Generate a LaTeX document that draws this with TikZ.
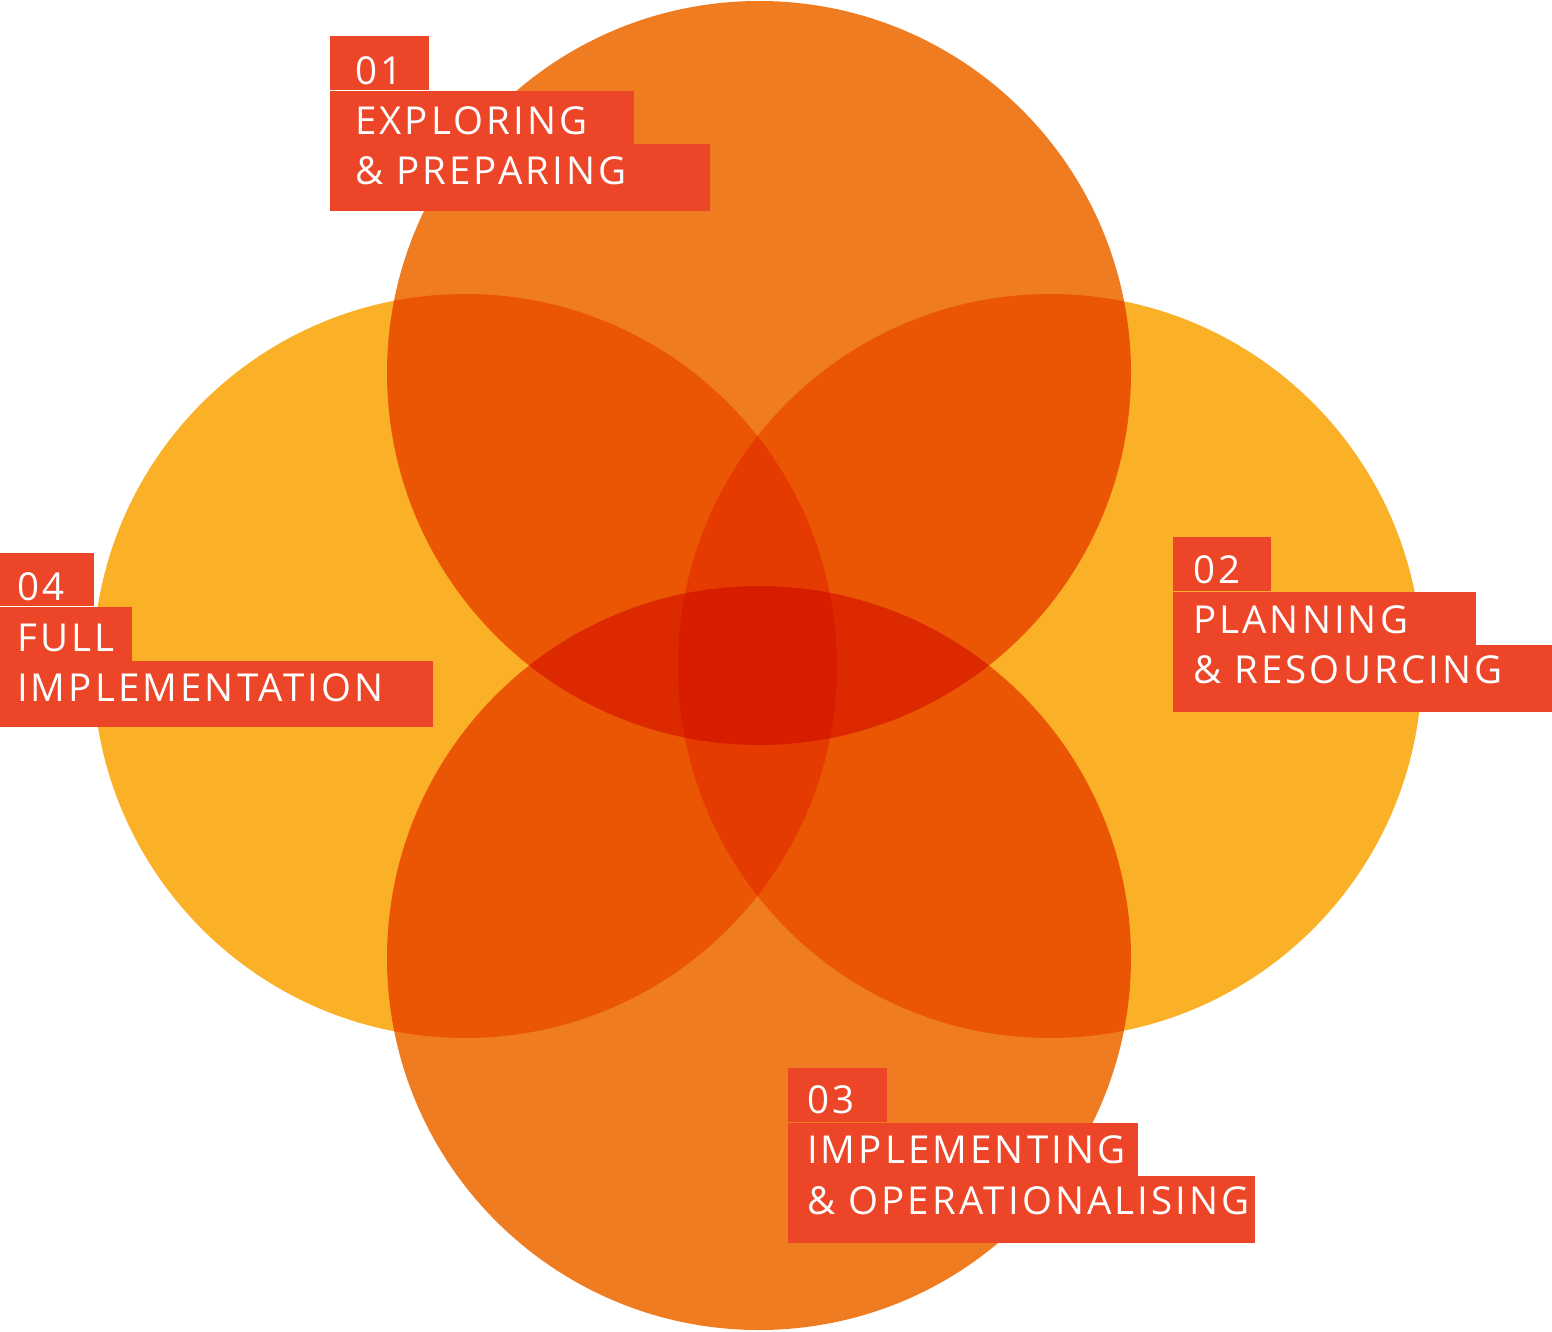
\documentclass[tikz,border=0pt]{standalone}
\usepackage{fontspec}
\setmainfont{Open Sans}[LetterSpace=8]
\usetikzlibrary{positioning}
\definecolor{stageorange}{HTML}{F07C22}
\definecolor{stageyellow}{HTML}{FAB128}
\definecolor{tagred}{HTML}{EC4527}

\begin{document}
\begin{tikzpicture}[x=1pt, y=-1pt]
        % Styles
        \tikzstyle{stage} = [circle, minimum size=744pt, inner sep=0pt]
        \tikzstyle{tag} = [fill=tagred, inner sep=0pt, anchor=north west]
        \tikzstyle{tagtext} = [text=white, inner sep=0pt, anchor=base west,
                               font=\fontsize{38.5}{44}\selectfont]

        \useasboundingbox (0,0) rectangle (1552,1332);

        % Stage circles - overlaps are multiplied
        \begin{scope}[blend mode=multiply]
            \node[stage, fill=stageorange] (exploring) at (759,373) {};
            \node[stage, fill=stageyellow] (planning) at (1050,666) {};
            \node[stage, fill=stageorange] (implementing) at (759,958) {};
            \node[stage, fill=stageyellow] (full) at (465,666) {};
        \end{scope}

        % 01 tag - stepped boxes, one per line
        \node[tag, minimum width=99pt, minimum height=54pt] (tag01a) at (330,36) {};
        \node[tag, minimum width=304pt, minimum height=53pt, below right=0pt and 0pt of tag01a.south west] (tag01b) {};
        \node[tag, minimum width=380pt, minimum height=67pt, below right=0pt and 0pt of tag01b.south west] (tag01c) {};
        \node[tagtext] (num01) at ([xshift=25pt, yshift=-49pt]tag01a.north west) {01};
        \node[tagtext] at ([yshift=-50pt]num01.base west) {EXPLORING};
        \node[tagtext] at ([yshift=-100pt]num01.base west) {\& PREPARING};

        % 02 tag
        \node[tag, minimum width=98pt, minimum height=54pt] (tag02a) at (1173,537) {};
        \node[tag, minimum width=303pt, minimum height=53pt, below right=0pt and 0pt of tag02a.south west] (tag02b) {};
        \node[tag, minimum width=379pt, minimum height=67pt, below right=0pt and 0pt of tag02b.south west] (tag02c) {};
        \node[tagtext] (num02) at ([xshift=20pt, yshift=-46pt]tag02a.north west) {02};
        \node[tagtext] at ([yshift=-50pt]num02.base west) {PLANNING};
        \node[tagtext] at ([yshift=-100pt]num02.base west) {\& RESOURCING};

        % 03 tag
        \node[tag, minimum width=99pt, minimum height=54pt] (tag03a) at (788,1068) {};
        \node[tag, minimum width=350pt, minimum height=53pt, below right=0pt and 0pt of tag03a.south west] (tag03b) {};
        \node[tag, minimum width=467pt, minimum height=67pt, below right=0pt and 0pt of tag03b.south west] (tag03c) {};
        \node[tagtext] (num03) at ([xshift=19pt, yshift=-45pt]tag03a.north west) {03};
        \node[tagtext] at ([yshift=-50pt]num03.base west) {IMPLEMENTING};
        \node[tagtext] at ([yshift=-101pt]num03.base west) {\& OPERATIONALISING};

        % 04 tag
        \node[tag, minimum width=94pt, minimum height=53pt] (tag04a) at (0,553) {};
        \node[tag, minimum width=132pt, minimum height=54pt, below right=0pt and 0pt of tag04a.south west] (tag04b) {};
        \node[tag, minimum width=433pt, minimum height=66pt, below right=0pt and 0pt of tag04b.south west] (tag04c) {};
        \node[tagtext] (num04) at ([xshift=17pt, yshift=-47pt]tag04a.north west) {04};
        \node[tagtext] at ([yshift=-51pt]num04.base west) {FULL};
        \node[tagtext] at ([yshift=-101pt]num04.base west) {IMPLEMENTATION};
\end{tikzpicture}
\end{document}
